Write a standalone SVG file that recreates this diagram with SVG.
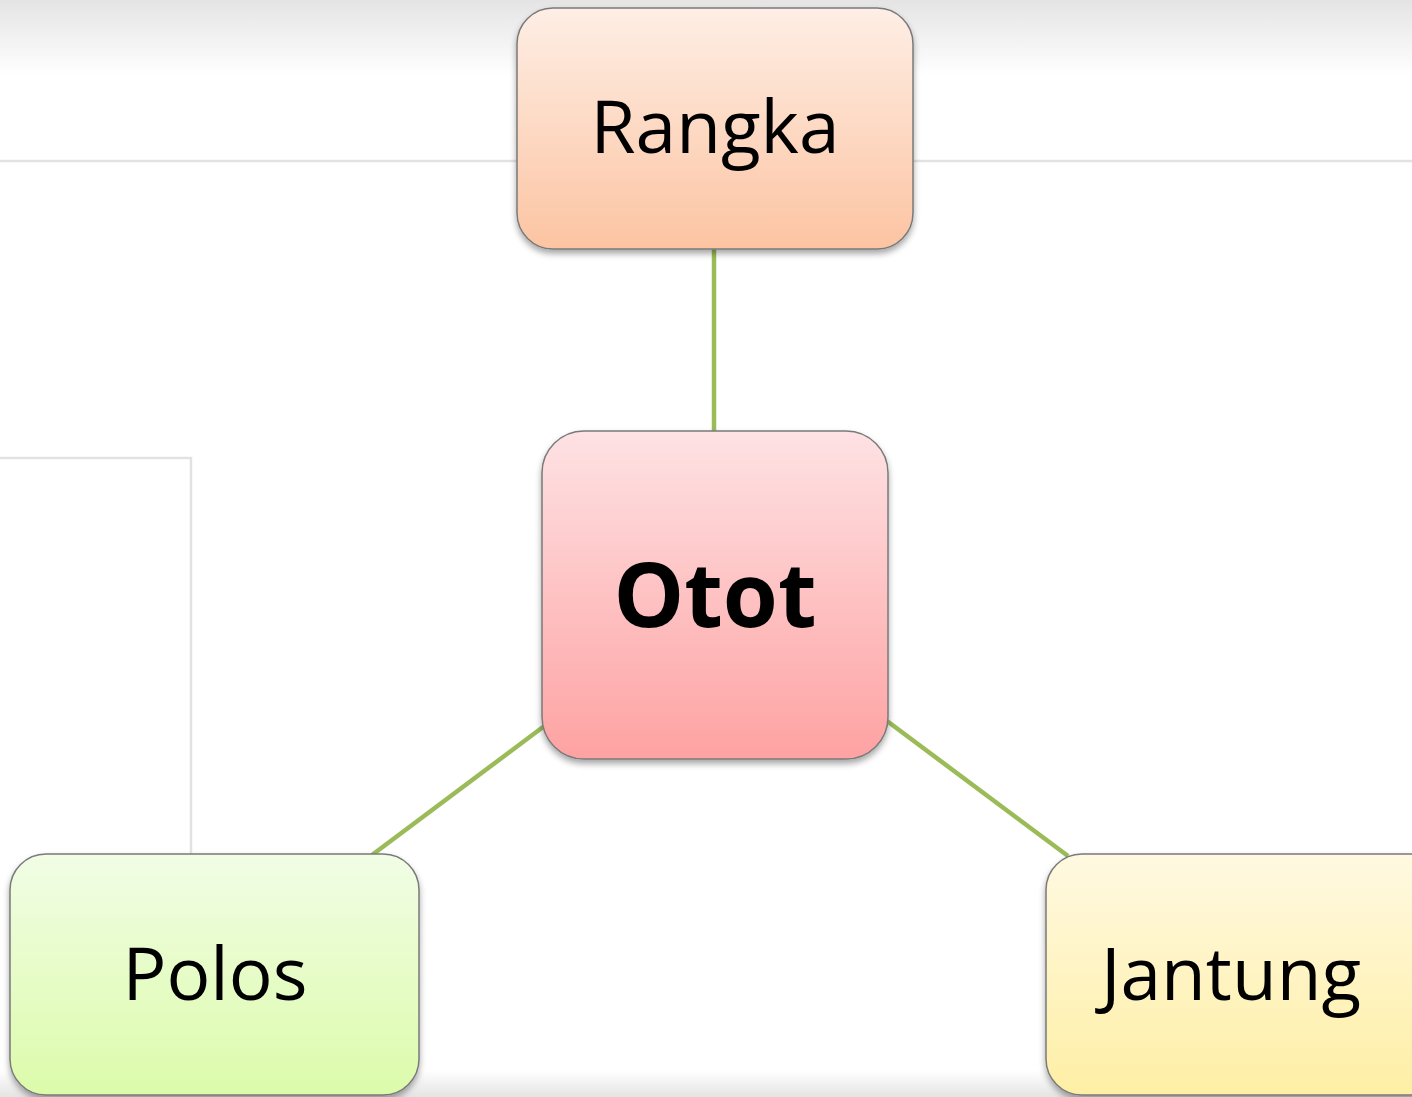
<svg xmlns="http://www.w3.org/2000/svg" width="1412" height="1097" viewBox="0 0 1412 1097">
<defs>
<linearGradient id="bgTop" x1="0" y1="0" x2="0" y2="1"><stop offset="0" stop-color="#e4e4e4"/><stop offset="1" stop-color="#ffffff"/></linearGradient>
<linearGradient id="bgBot" x1="0" y1="0" x2="0" y2="1"><stop offset="0" stop-color="#ffffff"/><stop offset="1" stop-color="#e4e4e4"/></linearGradient>
<linearGradient id="gR" x1="0" y1="0" x2="0" y2="1"><stop offset="0" stop-color="#feeee5"/><stop offset="1" stop-color="#fcc4a2"/></linearGradient>
<linearGradient id="gO" x1="0" y1="0" x2="0" y2="1"><stop offset="0" stop-color="#fee2e4"/><stop offset="1" stop-color="#fea2a2"/></linearGradient>
<linearGradient id="gP" x1="0" y1="0" x2="0" y2="1"><stop offset="0" stop-color="#f1fde5"/><stop offset="1" stop-color="#dcfbaa"/></linearGradient>
<linearGradient id="gJ" x1="0" y1="0" x2="0" y2="1"><stop offset="0" stop-color="#fff9e1"/><stop offset="1" stop-color="#feefa5"/></linearGradient>
<filter id="sh" x="-10%" y="-10%" width="120%" height="125%"><feDropShadow dx="0" dy="4" stdDeviation="3" flood-color="#000" flood-opacity="0.35"/></filter>
</defs>
<style>
.box{stroke:#7a7a7a;stroke-width:1.5;filter:url(#sh)}
.lbl{font-family:"Open Sans","Liberation Sans",sans-serif;fill:#000;text-anchor:middle}
.conn line{stroke:#9bbb59;stroke-width:4.5}
.bgl{stroke:#e2e2e2;stroke-width:2.5;fill:none}
</style>
<rect width="1412" height="1097" fill="#ffffff"/>
<rect width="1412" height="75" fill="url(#bgTop)"/>
<rect y="1070" width="1412" height="27" fill="url(#bgBot)"/>
<line class="bgl" x1="0" y1="161" x2="1412" y2="161"/>
<polyline class="bgl" points="0,458 191,458 191,855"/>
<g id="connectors" class="conn">
<line x1="714" y1="249" x2="714" y2="432"/>
<line x1="543" y1="727" x2="372" y2="855"/>
<line x1="887" y1="721" x2="1068" y2="856"/>
</g>
<g id="node-rangka">
<rect class="box" x="517" y="8" width="396" height="241" rx="36" fill="url(#gR)"/>
<text class="lbl" x="715" y="153" font-size="73">Rangka</text>
</g>
<g id="node-otot">
<rect class="box" x="542" y="431" width="346" height="328" rx="42" fill="url(#gO)"/>
<text class="lbl" x="715" y="627" font-size="89" font-weight="bold">Otot</text>
</g>
<g id="node-polos">
<rect class="box" x="10" y="854" width="409" height="241" rx="36" fill="url(#gP)"/>
<text class="lbl" x="215" y="1000" font-size="73">Polos</text>
</g>
<g id="node-jantung">
<rect class="box" x="1046" y="854" width="400" height="241" rx="36" fill="url(#gJ)"/>
<text class="lbl" x="1231" y="1000" font-size="73">Jantung</text>
</g>
</svg>
